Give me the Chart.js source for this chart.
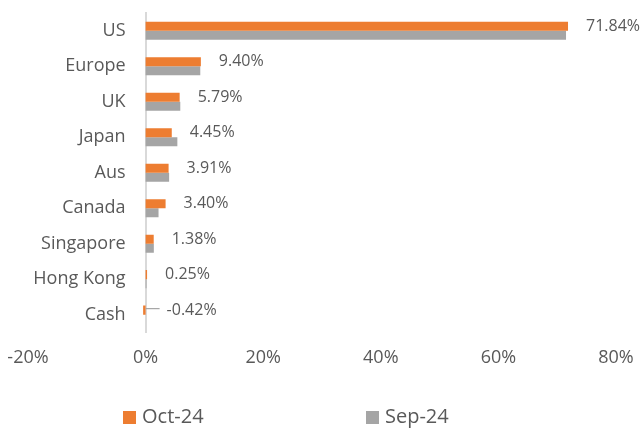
<!DOCTYPE html>
<html>
<head>
<meta charset="utf-8">
<script src="https://cdn.jsdelivr.net/npm/chart.js@4"></script>
<style>
html,body{margin:0;padding:0;background:#fff;}
#wrap{width:641px;height:429px;position:relative;}
</style>
</head>
<body>
<div id="wrap"><canvas id="c" width="641" height="429"></canvas></div>
<script>
const categories = ["US","Europe","UK","Japan","Aus","Canada","Singapore","Hong Kong","Cash"];
const oct24 = [71.84, 9.40, 5.79, 4.45, 3.91, 3.40, 1.38, 0.25, -0.42];
const sep24 = [71.5, 9.3, 5.9, 5.4, 4.0, 2.2, 1.4, 0.15, 0.0];
const seriesNames = ["Oct-24","Sep-24"];
const xTicks = [-20, 0, 20, 40, 60, 80];

const FONT = "'Open Sans', sans-serif";
const TXT = "#595959";
const ORANGE = "#ED7D31";
const GRAY = "#A5A5A5";

const catLabelPlugin = {
  id: 'catLabels',
  afterDraw(chart) {
    const ctx = chart.ctx;
    const xs = chart.scales.x, ys = chart.scales.y;
    const zero = xs.getPixelForValue(0);
    ctx.save();
    ctx.font = "18px " + FONT;
    ctx.fillStyle = TXT;
    ctx.textAlign = 'right';
    ctx.textBaseline = 'middle';
    categories.forEach((c, i) => {
      ctx.fillText(c, zero - 20, ys.getPixelForValue(i));
    });
    ctx.restore();
  }
};

const labelPlugin = {
  id: 'valueLabels',
  afterDatasetsDraw(chart) {
    const ctx = chart.ctx;
    const meta = chart.getDatasetMeta(0);
    const xs = chart.scales.x;
    const zero = xs.getPixelForValue(0);
    ctx.save();
    ctx.font = "16px " + FONT;
    ctx.fillStyle = TXT;
    ctx.textBaseline = 'middle';
    ctx.textAlign = 'left';
    meta.data.forEach((bar, i) => {
      const v = oct24[i];
      const end = Math.max(bar.x, zero);
      let x = end + 18;
      if (v < 0) {
        ctx.strokeStyle = GRAY;
        ctx.lineWidth = 1.2;
        ctx.beginPath();
        ctx.moveTo(zero, bar.y - 1.5);
        ctx.lineTo(zero + 14, bar.y - 1.5);
        ctx.stroke();
        x = zero + 21;
      }
      ctx.fillText(v.toFixed(2) + "%", x, bar.y);
    });
    ctx.restore();
  }
};

const legendPlugin = {
  id: 'customLegend',
  afterDraw(chart) {
    const ctx = chart.ctx;
    const items = [
      {text: seriesNames[0], color: ORANGE, x: 123},
      {text: seriesNames[1], color: GRAY, x: 366}
    ];
    const y = 417.5;
    ctx.save();
    ctx.font = "20px " + FONT;
    ctx.textBaseline = 'middle';
    ctx.textAlign = 'left';
    items.forEach(it => {
      ctx.fillStyle = it.color;
      ctx.fillRect(it.x, y - 6.5, 13, 13);
      ctx.fillStyle = TXT;
      ctx.fillText(it.text, it.x + 19, y);
    });
    ctx.restore();
  }
};

new Chart(document.getElementById('c'), {
  type: 'bar',
  data: {
    labels: categories,
    datasets: [
      {label: seriesNames[0], data: oct24, backgroundColor: ORANGE, borderWidth: 0,
       categoryPercentage: 0.51, barPercentage: 1.0},
      {label: seriesNames[1], data: sep24, backgroundColor: GRAY, borderWidth: 0,
       categoryPercentage: 0.51, barPercentage: 1.0}
    ]
  },
  options: {
    indexAxis: 'y',
    responsive: false,
    animation: false,
    devicePixelRatio: 1,
    layout: {padding: {top: 13, bottom: 45, left: 28, right: 25}},
    plugins: {
      legend: {display: false},
      tooltip: {enabled: false}
    },
    scales: {
      x: {
        type: 'linear',
        min: -20, max: 80,
        afterBuildTicks(scale) { scale.ticks = xTicks.map(v => ({value: v})); },
        afterFit(scale) { scale.paddingLeft = 0; scale.paddingRight = 0; },
        grid: {display: false, drawTicks: false},
        border: {display: false},
        ticks: {
          color: TXT, padding: 15,
          font: {family: FONT, size: 18},
          callback: v => v + "%"
        }
      },
      y: {
        type: 'category',
        position: {x: 0},
        afterFit(scale) { scale.paddingLeft = 0; scale.paddingRight = 0; scale.paddingTop = 0; scale.paddingBottom = 0; },
        grid: {display: false, drawTicks: false},
        border: {display: true, color: '#D9D9D9', width: 2},
        ticks: {display: false}
      }
    }
  },
  plugins: [labelPlugin, catLabelPlugin, legendPlugin]
});
</script>
</body>
</html>
